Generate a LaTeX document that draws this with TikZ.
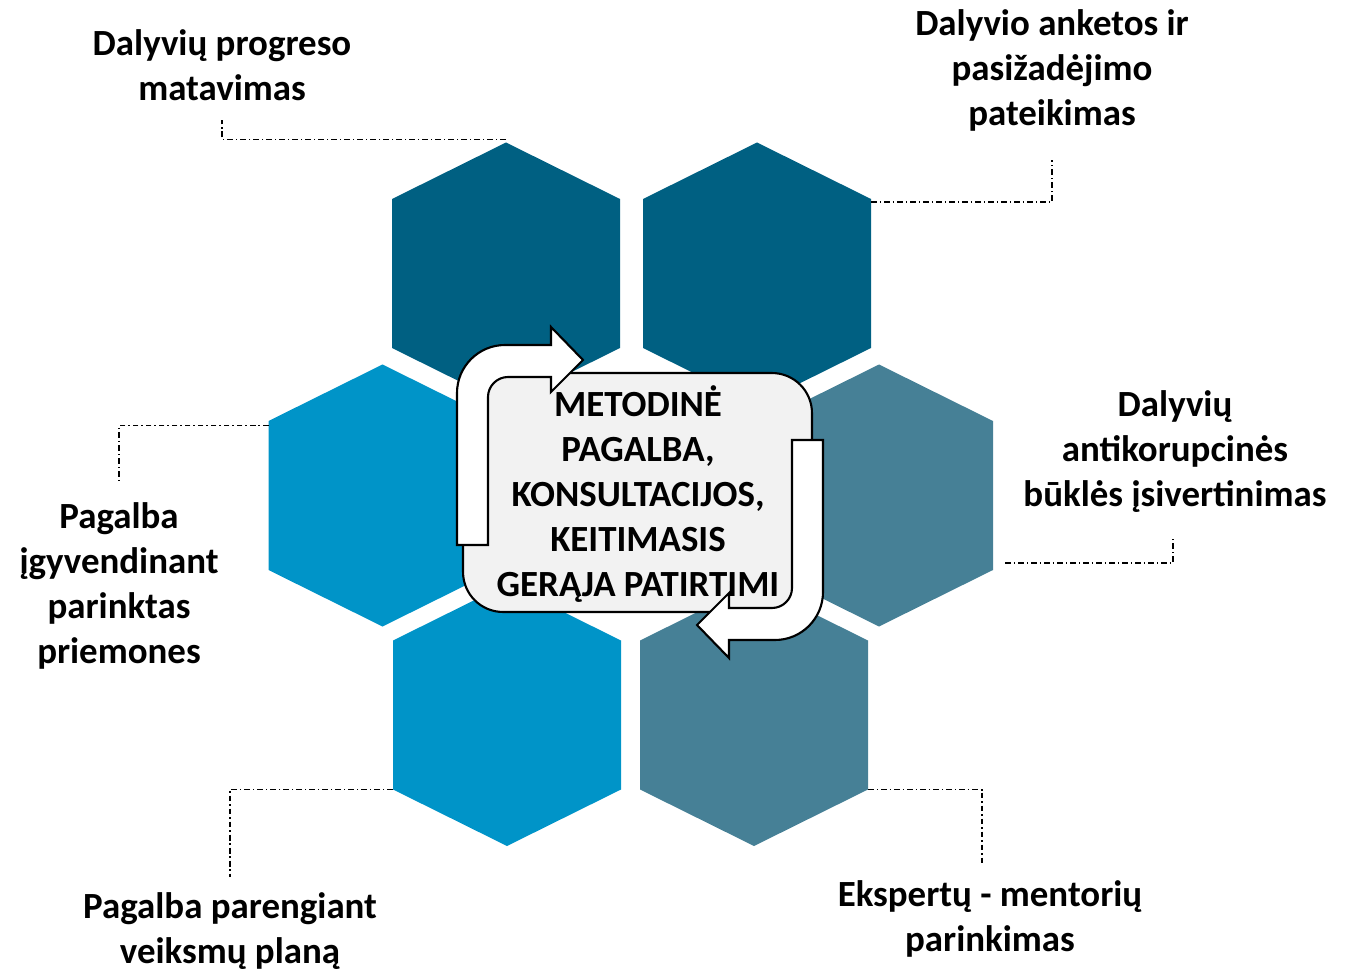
\documentclass[tikz,border=0pt]{standalone}
\usepackage{fontspec}
\setmainfont{Carlito}
\usepackage{tikz}
\usetikzlibrary{positioning}
\definecolor{hexdark}{RGB}{0,96,130}
\definecolor{hexblue}{RGB}{0,148,200}
\definecolor{hexgrey}{RGB}{70,128,150}
\definecolor{corefill}{RGB}{242,242,242}
\tikzstyle{leader}=[black, line width=0.7pt, dash pattern=on 3.4pt off 1.6pt on 0.8pt off 1.6pt]
\tikzstyle{corebox}=[draw=black, line width=1.2pt, fill=corefill, rounded corners=0.8cm,
    minimum width=6.98cm, minimum height=4.78cm, inner sep=0pt]
\tikzstyle{turn_arrow}=[draw=black, line width=1.2pt, fill=white, line join=miter]
\tikzstyle{caption}=[align=center, font=\fontsize{21}{25.6}\selectfont\bfseries, inner sep=0pt]
% one cell of the honeycomb, corners get names
\newcommand{\honeycell}[3]{%
  \coordinate (#1) at (#2);
  \fill[#3] (#1) ++(0,-131) coordinate (#1-n) -- ++(114,56.5) coordinate (#1-ne)
    -- ++(0,149) coordinate (#1-se) -- ++(-114,56.5) coordinate (#1-s)
    -- ++(-114,-56.5) coordinate (#1-sw) -- ++(0,-149) coordinate (#1-nw) -- cycle;}

\begin{document}
\begin{tikzpicture}[x=0.02cm, y=-0.02cm]
  \useasboundingbox (0,0) rectangle (1353,973);
  % honeycomb
  \honeycell{hexA}{506,273.5}{hexdark}
  \honeycell{hexB}{757,273.5}{hexdark}
  \honeycell{hexC}{382.5,495.5}{hexblue}
  \honeycell{hexD}{879,495.5}{hexgrey}
  \honeycell{hexE}{507,715}{hexblue}
  \honeycell{hexF}{754,715}{hexgrey}
  % leader ends
  \coordinate (endA) at (222,120);
  \coordinate (endB) at (1052,160);
  \coordinate (endC) at (119,483);
  \coordinate (endD) at (1173,537);
  \coordinate (endE) at (230,877);
  \coordinate (endF) at (982,863);
  \draw[leader] ([yshift=0.06cm]hexA-n) -| (endA);
  \draw[leader] ([yshift=-0.06cm]hexB-ne) -| (endB);
  \draw[leader] ([yshift=-0.09cm]hexC-nw) -| (endC);
  \draw[leader] ([shift={(12,-7)}]hexD-se) -| (endD);
  \draw[leader] (hexE-sw) -| (endE);
  \draw[leader] (hexF-se) -| (endF);
  % centre
  \node[corebox] (core) at (637.5,492.5) {};
  \draw[turn_arrow] (457,545) -- (488,545) -- (488,397) .. controls (488,386) and (497,377) .. (508,377)
    -- (551,377) -- (551,392) -- (583,360) -- (551,327) -- (551,345) -- (505,345)
    .. controls (478.5,345) and (457,366.5) .. (457,393) -- cycle;
  \draw[turn_arrow] (823,440) -- (792,440) -- (792,588) .. controls (792,599) and (783,608) .. (772,608)
    -- (729,608) -- (729,593) -- (697,625) -- (729,658) -- (729,640) -- (775,640)
    .. controls (801.5,640) and (823,618.5) .. (823,592) -- cycle;
  \node[caption] (coretext) at (638,494) {METODINĖ\\PAGALBA,\\KONSULTACIJOS,\\KEITIMASIS\\GERĄJA PATIRTIMI};
  % labels
  \node[caption] (lblA) at (222,65) {Dalyvių progreso\\matavimas};
  \node[caption] (lblB) at (1052,70) {Dalyvio anketos ir\\pasižadėjimo\\pateikimas};
  \node[caption] (lblC) at (119,586) {Pagalba\\įgyvendinant\\parinktas\\priemones};
  \node[caption] (lblD) at (1175,452) {Dalyvių\\antikorupcinės\\būklės įsivertinimas};
  \node[caption] (lblE) at (230,931) {Pagalba parengiant\\veiksmų planą};
  \node[caption] (lblF) at (990,919) {Ekspertų - mentorių\\parinkimas};
\end{tikzpicture}
\end{document}
